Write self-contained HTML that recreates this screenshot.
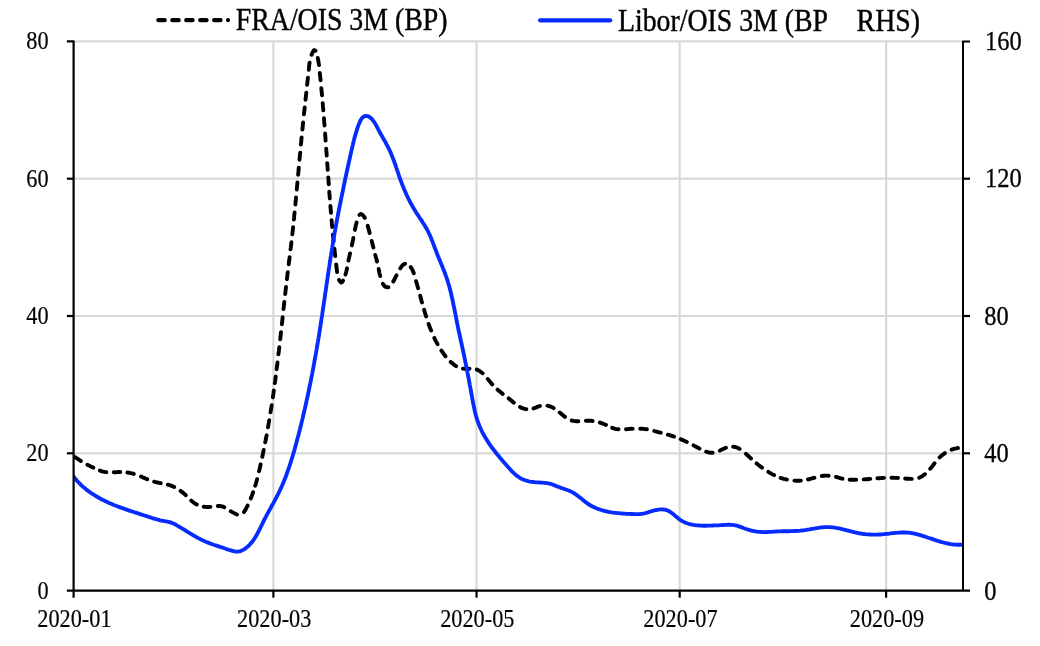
<!DOCTYPE html><html><head><meta charset="utf-8"><title>chart</title><style>
html,body{margin:0;padding:0;background:#fff;}svg{display:block;}text{font-family:"Liberation Serif",serif;fill:#000;stroke:#000;stroke-width:0.45px;}.s text{stroke-width:0.2px}.r text{stroke-width:0.34px}
</style></head><body>
<svg width="1040" height="646" viewBox="0 0 1040 646">
<rect width="1040" height="646" fill="#fff"/>
<g stroke="#d9d9d9" stroke-width="2.20" fill="none"><line x1="73.60" y1="453.30" x2="963.00" y2="453.30"/><line x1="73.60" y1="316.00" x2="963.00" y2="316.00"/><line x1="73.60" y1="178.70" x2="963.00" y2="178.70"/><line x1="73.60" y1="41.40" x2="963.00" y2="41.40"/><line x1="273.40" y1="41.40" x2="273.40" y2="590.60"/><line x1="476.53" y1="41.40" x2="476.53" y2="590.60"/><line x1="679.66" y1="41.40" x2="679.66" y2="590.60"/><line x1="886.12" y1="41.40" x2="886.12" y2="590.60"/></g>
<clipPath id="cp"><rect x="73.60" y="0" width="889.40" height="646"/></clipPath><g clip-path="url(#cp)">
<path d="M75.2 457.2L76.6 458.2 78.1 459.2 79.5 460.1 80.9 461.0M87.4 464.7L88.8 465.4 90.3 466.2 91.8 466.9 93.3 467.6M99.9 470.6L101.4 471.1 103.0 471.6 104.6 471.9 106.3 472.2M113.8 472.3L115.4 472.2 117.1 472.1 118.7 472.0 120.3 472.0M127.4 472.5L129.0 472.7 130.6 473.1 132.2 473.4 133.8 473.9M141.0 476.5L142.5 477.2 144.1 477.9 145.6 478.6 147.2 479.2M154.2 481.7L155.8 482.2 157.5 482.5 159.1 482.8 160.7 483.2M167.9 484.7L169.5 485.2 171.1 485.7 172.7 486.3 174.2 487.0M180.6 490.9L181.9 491.9 183.2 492.9 184.5 494.1 185.8 495.2M191.3 500.6L192.6 501.8 193.9 502.8 195.3 503.7 196.8 504.5M203.7 506.7L205.4 506.9 207.0 507.0 208.7 507.0 210.4 506.9M217.8 506.0L219.5 506.0 221.2 506.2 222.8 506.6 224.3 507.3M230.7 511.3L232.2 512.1 233.6 512.9 235.3 513.8 237.0 514.5M244.0 512.1L245.0 510.4 246.0 508.7 246.8 507.2 247.6 505.6M250.8 498.4L251.5 496.8 252.1 495.1 252.6 493.7 253.1 492.2M255.2 485.7L255.7 484.3 256.1 482.8 256.6 481.0 257.1 479.2M259.0 471.3L259.5 469.5 259.9 467.7 260.3 466.0 260.6 464.3M262.3 456.8L262.6 455.1 263.0 453.4 263.3 451.7 263.7 450.0M265.2 442.3L265.6 440.6 265.9 438.9 266.2 437.1 266.6 435.3M268.0 427.3L268.3 425.5 268.6 423.7 268.9 422.0 269.2 420.2M270.5 412.3L270.8 410.5 271.1 408.7 271.4 407.0 271.7 405.2M272.9 397.3L273.1 395.5 273.4 393.7 273.6 392.1 273.8 390.4M274.8 383.1L275.1 381.5 275.3 379.8 275.5 378.2 275.7 376.5M276.6 369.2L276.8 367.6 277.1 365.9 277.3 364.2 277.5 362.4M278.4 354.4L278.6 352.6 278.9 350.8 279.1 349.1 279.3 347.3M280.2 339.3L280.4 337.5 280.6 335.7 280.8 334.0 281.0 332.2M281.9 324.2L282.1 322.4 282.3 320.6 282.5 318.8 282.6 317.1M283.5 309.1L283.7 307.3 283.9 305.5 284.1 303.7 284.3 302.0M285.2 294.0L285.4 292.2 285.6 290.4 285.8 288.7 286.0 286.9M286.9 279.2L287.1 277.5 287.3 275.7 287.5 273.9 287.8 272.2M288.7 264.2L288.9 262.4 289.2 260.7 289.4 258.9 289.6 257.1M290.5 249.3L290.8 247.5 291.0 245.8 291.2 244.0 291.4 242.2M292.3 234.4L292.5 232.6 292.7 230.9 292.9 229.1 293.1 227.3M293.9 219.5L294.1 217.7 294.2 215.9 294.4 214.2 294.6 212.4M295.4 204.5L295.5 202.8 295.7 201.0 295.9 199.2 296.0 197.5M296.8 189.6L296.9 187.8 297.1 186.1 297.3 184.3 297.4 182.5M298.1 174.7L298.3 172.9 298.5 171.1 298.6 169.4 298.8 167.6M299.5 159.7L299.7 158.0 299.8 156.2 300.0 154.4 300.2 152.6M300.9 144.6L301.1 142.9 301.3 141.1 301.4 139.3 301.6 137.5M302.4 129.5L302.6 127.8 302.8 126.0 302.9 124.2 303.1 122.4M303.9 114.4L304.1 112.6 304.3 110.9 304.5 109.1 304.7 107.4M305.5 99.7L305.7 98.0 305.9 96.3 306.1 94.5 306.3 92.7M307.1 84.8L307.3 83.1 307.5 81.3 307.7 79.5 307.9 77.7M308.8 69.8L309.0 68.0 309.1 66.2 309.3 64.4 309.6 62.6M311.6 54.7L312.3 53.0 313.1 51.4 314.2 50.1 315.5 50.8M317.8 58.0L318.1 59.7 318.4 61.4 318.7 63.2 319.0 65.0M319.8 73.0L320.0 74.8 320.2 76.6 320.4 78.4 320.6 80.2M321.3 88.1L321.5 89.9 321.7 91.7 321.8 93.5 322.0 95.3M322.7 103.3L322.9 105.1 323.0 106.9 323.2 108.7 323.3 110.4M324.0 118.3L324.1 120.1 324.2 121.9 324.4 123.7 324.5 125.5M325.1 133.5L325.2 135.3 325.4 137.0 325.5 138.8 325.6 140.6M326.2 148.6L326.3 150.4 326.5 152.2 326.6 153.9 326.7 155.6M327.2 163.1L327.4 164.8 327.5 166.5 327.6 168.2 327.7 169.9M328.3 177.4L328.4 179.1 328.5 180.8 328.6 182.5 328.8 184.2M329.3 191.7L329.4 193.4 329.6 195.1 329.7 196.8 329.8 198.5M330.4 206.0L330.6 207.7 330.7 209.4 330.8 211.1 331.0 212.8M331.6 220.3L331.8 222.0 331.9 223.7 332.1 225.4 332.2 227.1M332.9 234.6L333.1 236.3 333.3 237.9 333.4 239.6 333.6 241.3M334.4 248.8L334.6 250.5 334.8 252.2 335.0 254.1 335.2 256.0M336.2 264.5L336.4 266.4 336.7 268.4 336.9 270.2 337.1 272.0M339.0 279.9L339.9 281.4 341.2 282.6 342.3 281.9 343.1 280.6M345.5 274.6L345.9 273.1 346.3 271.7 346.6 270.0 347.0 268.3M348.4 260.6L348.8 258.8 349.2 257.1 349.6 255.3 350.0 253.5M351.9 245.4L352.3 243.5 352.6 241.7 353.0 239.9 353.3 238.0M354.9 229.9L355.3 228.0 355.7 226.2 356.1 224.4 356.6 222.6M359.5 214.9L360.9 214.0 362.5 214.8 363.7 216.2 364.8 217.8M367.7 225.8L368.2 227.6 368.7 229.5 369.2 231.3 369.6 233.0M371.7 240.9L372.1 242.6 372.6 244.4 373.0 246.0 373.4 247.6M375.3 254.9L375.7 256.5 376.2 258.2 376.6 259.8 377.0 261.5M378.7 269.0L379.0 270.7 379.3 272.3 379.7 274.2 380.2 276.0M382.9 283.9L384.0 285.5 385.3 286.7 386.8 287.3 388.4 287.3M393.3 281.5L394.1 280.0 394.9 278.5 395.7 276.9 396.5 275.3M400.3 268.3L401.3 266.8 402.4 265.5 403.6 264.4 405.0 263.7M410.7 267.1L411.6 268.4 412.4 269.8 413.1 271.5 413.8 273.3M416.1 281.2L416.6 283.0 417.1 284.8 417.6 286.5 418.1 288.2M420.2 295.7L420.6 297.4 421.1 299.1 421.5 300.8 422.0 302.4M424.1 309.8L424.6 311.5 425.1 313.2 425.6 314.8 426.1 316.5M428.6 323.9L429.1 325.5 429.8 327.2 430.4 328.9 431.1 330.5M434.3 337.9L435.1 339.6 435.9 341.2 436.7 342.7 437.5 344.2M441.4 350.6L442.4 352.0 443.4 353.4 444.4 354.8 445.5 356.2M450.7 361.9L452.0 363.0 453.3 364.1 454.7 365.1 456.1 366.1M462.9 368.6L464.5 368.8 466.1 368.8 467.8 368.8 469.5 368.7M476.8 369.6L478.4 370.3 479.9 371.2 481.2 372.2 482.6 373.3M487.8 379.1L488.9 380.5 490.0 381.8 491.1 383.1 492.3 384.4M497.6 389.6L498.8 390.7 500.1 391.8 501.4 392.8 502.7 393.9M508.6 398.4L509.9 399.4 511.2 400.5 512.5 401.6 513.8 402.6M520.0 407.0L521.5 407.8 523.1 408.4 524.7 408.9 526.3 409.2M533.5 408.4L535.1 407.9 536.6 407.2 538.2 406.6 539.9 406.0M547.5 405.7L549.1 406.1 550.8 406.7 552.3 407.3 553.7 408.1M559.7 412.5L561.0 413.6 562.3 414.7 563.6 415.8 565.0 416.9M571.7 420.5L573.4 420.9 575.1 421.1 576.7 421.2 578.4 421.2M585.9 420.7L587.5 420.7 589.2 420.7 590.9 420.8 592.6 421.0M599.9 422.6L601.5 423.2 603.1 423.7 604.5 424.3 606.0 424.9M612.2 427.8L613.7 428.3 615.2 428.8 616.8 429.1 618.5 429.3M626.0 429.2L627.7 429.1 629.3 428.9 631.0 428.8 632.7 428.8M640.2 428.7L641.9 428.7 643.5 428.9 645.2 429.1 646.9 429.3M654.2 431.0L655.9 431.5 657.5 431.9 659.1 432.3 660.7 432.7M667.8 434.7L669.4 435.1 671.0 435.6 672.5 436.1 674.1 436.6M680.8 439.2L682.2 439.9 683.7 440.5 685.3 441.3 686.8 442.0M693.5 445.4L695.0 446.2 696.5 447.0 698.0 447.8 699.5 448.6M706.2 451.7L707.8 452.2 709.4 452.6 711.1 452.8 712.7 452.8M719.8 450.6L721.3 449.8 722.9 449.1 724.4 448.4 725.9 447.8M733.1 446.7L734.8 446.9 736.3 447.4 738.0 448.0 739.6 448.9M745.9 453.8L747.2 455.0 748.6 456.3 749.8 457.4 751.0 458.5M756.6 463.4L757.9 464.5 759.2 465.5 760.6 466.6 762.0 467.6M768.3 471.9L769.8 472.8 771.2 473.6 772.7 474.4 774.1 475.1M780.6 477.9L782.1 478.3 783.6 478.8 785.3 479.2 786.9 479.6M794.4 480.6L796.1 480.7 797.8 480.7 799.4 480.7 800.9 480.6M808.0 479.5L809.5 479.1 811.1 478.7 812.7 478.2 814.4 477.8M821.8 476.0L823.5 475.8 825.2 475.6 826.9 475.6 828.6 475.7M836.0 476.9L837.7 477.4 839.3 477.8 840.9 478.3 842.5 478.7M849.6 479.7L851.3 479.8 852.9 479.8 854.6 479.8 856.2 479.8M863.7 479.4L865.4 479.3 867.1 479.2 868.7 479.0 870.3 478.9M877.4 478.3L879.0 478.2 880.6 478.1 882.3 478.0 884.0 477.9M891.4 477.8L893.1 477.8 894.8 477.9 896.4 477.9 898.0 478.0M905.2 478.5L906.8 478.7 908.5 478.8 910.1 478.9 911.8 478.9M919.2 477.7L920.7 477.0 922.2 476.1 923.6 475.2 925.0 474.2M930.2 468.8L931.3 467.5 932.4 466.1 933.4 464.7 934.5 463.3M939.6 457.4L940.9 456.2 942.2 455.1 943.6 454.1 944.9 453.1M951.6 449.7L953.1 449.2 954.7 448.7 956.4 448.3 958.0 448.0" fill="none" stroke="#000" stroke-width="3.9" stroke-linecap="round" stroke-linejoin="round"/>
<path d="M73.4 476.3L74.3 477.5 75.3 478.7 76.2 479.8 77.2 481.0 78.2 482.1 79.3 483.1 80.3 484.2 81.4 485.3 82.5 486.3 83.6 487.3 84.8 488.2 85.9 489.2 87.1 490.1 88.3 491.0 89.5 491.9 90.7 492.8 92.0 493.6 93.2 494.4 94.5 495.2 95.8 496.0 97.1 496.8 98.4 497.5 99.7 498.3 101.0 499.0 102.3 499.7 103.7 500.3 105.0 501.0 106.4 501.6 107.7 502.3 109.1 502.9 110.5 503.5 111.9 504.1 113.2 504.7 114.6 505.2 116.0 505.8 117.4 506.3 118.8 506.9 120.2 507.4 121.6 507.9 123.0 508.4 124.5 508.9 125.9 509.4 127.3 509.9 128.7 510.4 130.1 510.9 131.6 511.3 133.0 511.8 134.4 512.3 135.8 512.7 137.3 513.2 138.7 513.6 140.1 514.1 141.6 514.6 143.0 515.0 144.4 515.5 145.8 515.9 147.3 516.4 148.7 516.9 150.1 517.3 151.5 517.8 153.0 518.3 154.4 518.7 155.8 519.1 157.3 519.5 158.7 519.9 160.2 520.3 161.6 520.6 163.1 520.9 164.6 521.2 166.1 521.4 167.5 521.7 169.0 522.0 170.5 522.4 171.9 522.9 173.3 523.5 174.6 524.1 176.0 524.8 177.3 525.6 178.5 526.3 179.8 527.1 181.1 527.9 182.4 528.6 183.7 529.4 184.9 530.2 186.2 531.0 187.5 531.8 188.8 532.6 190.1 533.4 191.3 534.1 192.6 534.9 193.9 535.7 195.2 536.4 196.5 537.2 197.8 537.9 199.2 538.6 200.5 539.3 201.8 539.9 203.2 540.6 204.6 541.2 205.9 541.8 207.3 542.4 208.7 542.9 210.1 543.4 211.5 544.0 213.0 544.5 214.4 545.0 215.8 545.4 217.2 545.9 218.6 546.4 220.1 546.9 221.5 547.3 222.9 547.8 224.3 548.3 225.7 548.8 227.2 549.3 228.6 549.7 230.0 550.2 231.5 550.6 232.9 551.0 234.4 551.3 235.9 551.5 237.4 551.6 238.9 551.4 240.3 551.1 241.7 550.6 243.1 549.9 244.4 549.2 245.6 548.3 246.8 547.4 247.9 546.4 249.0 545.3 250.0 544.3 251.0 543.1 252.0 542.0 252.9 540.8 253.7 539.6 254.6 538.3 255.4 537.1 256.2 535.8 256.9 534.5 257.6 533.2 258.3 531.8 259.0 530.5 259.7 529.2 260.4 527.8 261.0 526.5 261.7 525.1 262.3 523.8 263.0 522.4 263.6 521.1 264.3 519.7 265.0 518.4 265.7 517.1 266.4 515.7 267.1 514.4 267.8 513.1 268.5 511.8 269.2 510.5 270.0 509.1 270.7 507.8 271.4 506.5 272.1 505.2 272.9 503.9 273.6 502.6 274.3 501.3 275.0 499.9 275.7 498.6 276.4 497.3 277.1 496.0 277.8 494.6 278.5 493.3 279.1 491.9 279.8 490.6 280.4 489.2 281.0 487.9 281.7 486.5 282.3 485.1 282.9 483.8 283.4 482.4 284.0 481.0 284.6 479.6 285.1 478.2 285.7 476.8 286.2 475.4 286.7 474.0 287.2 472.6 287.7 471.2 288.2 469.7 288.7 468.3 289.2 466.9 289.7 465.5 290.1 464.1 290.6 462.6 291.1 461.2 291.5 459.8 291.9 458.3 292.4 456.9 292.8 455.5 293.2 454.0 293.6 452.6 294.1 451.1 294.5 449.7 294.9 448.3 295.3 446.8 295.7 445.4 296.1 443.9 296.5 442.5 296.8 441.0 297.2 439.6 297.6 438.1 298.0 436.7 298.4 435.2 298.8 433.8 299.1 432.3 299.5 430.9 299.9 429.4 300.2 428.0 300.6 426.5 301.0 425.0 301.3 423.6 301.7 422.1 302.0 420.7 302.4 419.2 302.7 417.8 303.1 416.3 303.4 414.8 303.8 413.4 304.1 411.9 304.4 410.4 304.8 409.0 305.1 407.5 305.4 406.1 305.8 404.6 306.1 403.1 306.4 401.7 306.7 400.2 307.0 398.7 307.4 397.3 307.7 395.8 308.0 394.3 308.3 392.9 308.6 391.4 308.9 389.9 309.2 388.5 309.5 387.0 309.8 385.5 310.1 384.1 310.4 382.6 310.7 381.1 311.0 379.6 311.3 378.2 311.6 376.7 311.9 375.2 312.2 373.8 312.4 372.3 312.7 370.8 313.0 369.3 313.3 367.9 313.6 366.4 313.8 364.9 314.1 363.4 314.4 362.0 314.6 360.5 314.9 359.0 315.2 357.5 315.4 356.1 315.7 354.6 316.0 353.1 316.2 351.6 316.5 350.1 316.7 348.7 317.0 347.2 317.2 345.7 317.5 344.2 317.7 342.8 318.0 341.3 318.2 339.8 318.5 338.3 318.7 336.8 319.0 335.4 319.2 333.9 319.4 332.4 319.7 330.9 319.9 329.4 320.1 327.9 320.4 326.5 320.6 325.0 320.8 323.5 321.1 322.0 321.3 320.5 321.5 319.1 321.7 317.6 322.0 316.1 322.2 314.6 322.4 313.1 322.6 311.6 322.8 310.2 323.1 308.7 323.3 307.2 323.5 305.7 323.7 304.2 323.9 302.7 324.2 301.2 324.4 299.8 324.6 298.3 324.8 296.8 325.0 295.3 325.2 293.8 325.4 292.3 325.7 290.9 325.9 289.4 326.1 287.9 326.3 286.4 326.5 284.9 326.7 283.4 327.0 282.0 327.2 280.5 327.4 279.0 327.6 277.5 327.8 276.0 328.1 274.5 328.3 273.0 328.5 271.6 328.7 270.1 328.9 268.6 329.2 267.1 329.4 265.6 329.6 264.1 329.8 262.7 330.1 261.2 330.3 259.7 330.5 258.2 330.7 256.7 331.0 255.3 331.2 253.8 331.4 252.3 331.7 250.8 331.9 249.3 332.2 247.8 332.4 246.4 332.6 244.9 332.9 243.4 333.1 241.9 333.4 240.4 333.6 239.0 333.9 237.5 334.1 236.0 334.4 234.5 334.6 233.1 334.9 231.6 335.2 230.1 335.4 228.6 335.7 227.1 336.0 225.7 336.2 224.2 336.5 222.7 336.8 221.2 337.0 219.8 337.3 218.3 337.6 216.8 337.9 215.3 338.2 213.9 338.4 212.4 338.7 210.9 339.0 209.5 339.3 208.0 339.6 206.5 339.9 205.0 340.2 203.6 340.5 202.1 340.8 200.6 341.1 199.2 341.4 197.7 341.7 196.2 342.0 194.7 342.3 193.3 342.6 191.8 342.9 190.3 343.2 188.9 343.5 187.4 343.8 185.9 344.1 184.5 344.4 183.0 344.7 181.5 345.0 180.1 345.3 178.6 345.7 177.1 346.0 175.7 346.3 174.2 346.6 172.7 346.9 171.3 347.2 169.8 347.5 168.3 347.9 166.9 348.2 165.4 348.5 163.9 348.8 162.5 349.1 161.0 349.5 159.5 349.8 158.1 350.1 156.6 350.4 155.1 350.8 153.7 351.1 152.2 351.4 150.8 351.8 149.3 352.1 147.8 352.4 146.4 352.8 144.9 353.1 143.5 353.5 142.0 353.9 140.5 354.2 139.1 354.6 137.6 355.0 136.2 355.4 134.7 355.8 133.3 356.3 131.9 356.7 130.4 357.1 129.0 357.6 127.6 358.1 126.2 358.6 124.8 359.2 123.4 359.8 122.0 360.4 120.6 361.1 119.3 362.0 118.1 363.1 117.0 364.4 116.3 365.8 116.0 367.3 116.1 368.7 116.5 370.0 117.3 371.1 118.3 372.2 119.4 373.1 120.6 374.0 121.8 374.8 123.1 375.6 124.3 376.3 125.6 377.0 127.0 377.7 128.3 378.4 129.6 379.1 131.0 379.8 132.3 380.5 133.6 381.3 134.9 382.0 136.2 382.7 137.5 383.5 138.8 384.2 140.1 385.0 141.4 385.7 142.7 386.4 144.1 387.1 145.4 387.8 146.7 388.5 148.0 389.2 149.4 389.8 150.7 390.4 152.1 391.0 153.5 391.6 154.9 392.2 156.3 392.7 157.7 393.2 159.1 393.8 160.5 394.3 161.9 394.8 163.3 395.3 164.7 395.8 166.1 396.2 167.5 396.7 169.0 397.2 170.4 397.7 171.8 398.2 173.2 398.6 174.6 399.1 176.1 399.6 177.5 400.1 178.9 400.6 180.3 401.2 181.7 401.7 183.1 402.2 184.5 402.8 185.9 403.4 187.3 403.9 188.7 404.5 190.1 405.1 191.4 405.7 192.8 406.3 194.2 406.9 195.6 407.6 196.9 408.2 198.3 408.9 199.6 409.6 200.9 410.3 202.3 411.0 203.6 411.7 204.9 412.4 206.2 413.2 207.5 413.9 208.8 414.7 210.1 415.5 211.4 416.3 212.7 417.1 213.9 417.9 215.2 418.8 216.4 419.6 217.7 420.4 218.9 421.3 220.2 422.1 221.4 422.9 222.7 423.7 223.9 424.5 225.2 425.3 226.5 426.0 227.8 426.8 229.1 427.5 230.4 428.2 231.7 428.8 233.1 429.5 234.4 430.1 235.8 430.7 237.2 431.3 238.6 431.8 240.0 432.4 241.4 432.9 242.8 433.4 244.2 434.0 245.6 434.5 247.0 435.0 248.4 435.5 249.8 436.1 251.2 436.6 252.6 437.2 254.0 437.7 255.4 438.3 256.8 438.8 258.1 439.4 259.5 440.0 260.9 440.6 262.3 441.1 263.7 441.7 265.1 442.3 266.5 442.8 267.9 443.4 269.3 443.9 270.6 444.5 272.0 445.0 273.4 445.5 274.9 446.0 276.3 446.5 277.7 447.0 279.1 447.5 280.5 447.9 282.0 448.3 283.4 448.8 284.8 449.2 286.3 449.6 287.7 450.0 289.2 450.3 290.6 450.7 292.1 451.1 293.5 451.4 295.0 451.7 296.5 452.1 297.9 452.4 299.4 452.7 300.9 453.0 302.3 453.3 303.8 453.6 305.3 453.9 306.7 454.2 308.2 454.5 309.7 454.8 311.1 455.1 312.6 455.4 314.1 455.7 315.6 456.0 317.0 456.3 318.5 456.5 320.0 456.8 321.5 457.1 322.9 457.4 324.4 457.7 325.9 458.0 327.3 458.3 328.8 458.6 330.3 458.9 331.7 459.3 333.2 459.6 334.7 459.9 336.1 460.2 337.6 460.5 339.1 460.8 340.5 461.2 342.0 461.5 343.5 461.8 344.9 462.1 346.4 462.4 347.9 462.8 349.3 463.1 350.8 463.4 352.3 463.7 353.7 464.0 355.2 464.3 356.7 464.6 358.1 464.9 359.6 465.2 361.1 465.5 362.5 465.8 364.0 466.1 365.5 466.4 367.0 466.7 368.4 467.0 369.9 467.3 371.4 467.5 372.8 467.8 374.3 468.1 375.8 468.4 377.3 468.7 378.7 468.9 380.2 469.2 381.7 469.5 383.2 469.7 384.6 470.0 386.1 470.3 387.6 470.6 389.1 470.8 390.5 471.1 392.0 471.4 393.5 471.6 395.0 471.9 396.4 472.2 397.9 472.4 399.4 472.7 400.9 473.0 402.3 473.3 403.8 473.6 405.3 473.9 406.8 474.2 408.2 474.5 409.7 474.8 411.2 475.2 412.6 475.5 414.1 475.9 415.5 476.3 417.0 476.8 418.4 477.2 419.8 477.7 421.3 478.2 422.7 478.7 424.1 479.3 425.5 479.8 426.9 480.5 428.2 481.1 429.6 481.7 430.9 482.4 432.3 483.1 433.6 483.8 434.9 484.6 436.2 485.3 437.5 486.1 438.8 486.9 440.1 487.7 441.4 488.5 442.6 489.3 443.9 490.2 445.1 491.0 446.3 491.9 447.5 492.8 448.7 493.7 449.9 494.6 451.1 495.6 452.3 496.5 453.5 497.4 454.6 498.4 455.8 499.4 457.0 500.3 458.1 501.3 459.2 502.3 460.4 503.2 461.5 504.2 462.7 505.2 463.8 506.2 464.9 507.2 466.0 508.2 467.2 509.2 468.3 510.2 469.4 511.2 470.5 512.2 471.6 513.3 472.6 514.4 473.7 515.5 474.7 516.7 475.6 517.9 476.5 519.1 477.4 520.4 478.2 521.7 478.9 523.1 479.5 524.5 480.1 525.9 480.5 527.3 480.9 528.8 481.3 530.2 481.6 531.7 481.8 533.2 482.0 534.7 482.2 536.2 482.3 537.7 482.4 539.2 482.5 540.7 482.6 542.2 482.7 543.7 482.8 545.2 482.9 546.7 483.1 548.1 483.3 549.6 483.7 551.1 484.0 552.5 484.5 553.9 485.1 555.3 485.6 556.7 486.2 558.0 486.8 559.4 487.3 560.9 487.8 562.3 488.3 563.7 488.8 565.1 489.3 566.5 489.8 567.9 490.3 569.3 490.8 570.7 491.4 572.1 492.1 573.4 492.8 574.6 493.6 575.9 494.5 577.1 495.4 578.3 496.3 579.5 497.2 580.6 498.1 581.8 499.1 582.9 500.0 584.1 501.0 585.3 501.9 586.5 502.8 587.7 503.7 589.0 504.5 590.3 505.3 591.6 506.0 592.9 506.7 594.3 507.3 595.6 508.0 597.0 508.5 598.4 509.1 599.8 509.5 601.3 510.0 602.7 510.4 604.1 510.8 605.6 511.2 607.1 511.5 608.5 511.8 610.0 512.1 611.5 512.3 613.0 512.6 614.5 512.8 615.9 512.9 617.4 513.1 618.9 513.2 620.4 513.4 621.9 513.5 623.4 513.6 624.9 513.7 626.4 513.8 627.9 513.8 629.4 513.9 630.9 514.0 632.4 514.0 633.9 514.1 635.4 514.1 636.9 514.2 638.4 514.1 639.9 514.1 641.4 513.9 642.9 513.7 644.3 513.4 645.8 513.0 647.2 512.6 648.7 512.1 650.1 511.7 651.5 511.2 653.0 510.8 654.4 510.4 655.9 510.0 657.3 509.8 658.8 509.6 660.3 509.4 661.8 509.4 663.3 509.5 664.8 509.7 666.3 510.0 667.7 510.5 669.0 511.2 670.3 512.0 671.5 512.8 672.7 513.7 673.9 514.7 675.0 515.7 676.2 516.6 677.3 517.6 678.5 518.6 679.7 519.5 680.9 520.3 682.2 521.1 683.5 521.8 684.9 522.4 686.3 523.0 687.7 523.5 689.1 523.9 690.6 524.3 692.0 524.6 693.5 524.9 695.0 525.1 696.5 525.3 698.0 525.4 699.5 525.5 701.0 525.6 702.5 525.7 704.0 525.7 705.5 525.7 707.0 525.7 708.5 525.6 710.0 525.6 711.5 525.6 713.0 525.5 714.5 525.4 716.0 525.4 717.5 525.3 719.0 525.3 720.5 525.2 722.0 525.1 723.5 525.0 725.0 524.9 726.5 524.8 727.9 524.7 729.4 524.7 730.9 524.8 732.4 524.9 733.9 525.1 735.4 525.3 736.9 525.7 738.3 526.1 739.7 526.6 741.1 527.1 742.5 527.6 743.9 528.2 745.3 528.7 746.7 529.2 748.2 529.7 749.6 530.1 751.1 530.5 752.5 530.8 754.0 531.1 755.5 531.4 757.0 531.6 758.4 531.8 759.9 531.9 761.4 532.0 762.9 532.1 764.4 532.1 765.9 532.1 767.4 532.0 768.9 531.9 770.4 531.8 771.9 531.8 773.4 531.7 774.9 531.6 776.4 531.5 777.9 531.4 779.4 531.3 780.9 531.3 782.4 531.2 783.9 531.2 785.4 531.2 786.9 531.2 788.4 531.2 789.9 531.2 791.4 531.1 792.9 531.1 794.4 531.0 795.9 531.0 797.4 530.9 798.9 530.8 800.4 530.7 801.9 530.5 803.4 530.3 804.9 530.1 806.3 529.9 807.8 529.6 809.3 529.4 810.8 529.1 812.3 528.8 813.7 528.6 815.2 528.3 816.7 528.1 818.2 527.8 819.7 527.6 821.1 527.4 822.6 527.3 824.1 527.2 825.6 527.1 827.1 527.1 828.6 527.1 830.1 527.1 831.6 527.3 833.1 527.4 834.6 527.6 836.1 527.9 837.6 528.1 839.0 528.4 840.5 528.7 842.0 529.1 843.4 529.4 844.9 529.8 846.3 530.2 847.8 530.5 849.2 530.9 850.7 531.3 852.1 531.7 853.6 532.0 855.0 532.4 856.5 532.7 858.0 533.0 859.4 533.3 860.9 533.5 862.4 533.8 863.9 534.0 865.4 534.2 866.9 534.3 868.4 534.4 869.9 534.5 871.4 534.6 872.9 534.6 874.4 534.6 875.9 534.6 877.4 534.6 878.9 534.5 880.4 534.5 881.9 534.4 883.4 534.2 884.8 534.1 886.3 533.9 887.8 533.8 889.3 533.6 890.8 533.4 892.3 533.2 893.8 533.1 895.3 532.9 896.8 532.8 898.3 532.7 899.8 532.6 901.3 532.5 902.8 532.5 904.3 532.5 905.8 532.5 907.3 532.6 908.8 532.7 910.2 532.9 911.7 533.1 913.2 533.4 914.7 533.7 916.1 534.0 917.6 534.4 919.0 534.8 920.5 535.2 921.9 535.6 923.4 536.1 924.8 536.5 926.2 537.0 927.6 537.5 929.0 538.0 930.5 538.4 931.9 538.9 933.3 539.4 934.7 539.9 936.1 540.4 937.6 540.8 939.0 541.3 940.4 541.7 941.9 542.1 943.3 542.5 944.8 542.9 946.2 543.2 947.7 543.5 949.2 543.8 950.7 544.1 952.2 544.3 953.6 544.5 955.1 544.6 956.6 544.7 958.1 544.7 959.6 544.7 961.1 544.7 962.6 544.6" fill="none" stroke="#062bff" stroke-width="3.85" stroke-linecap="round" stroke-linejoin="round"/>
</g>
<g stroke="#000" stroke-width="2.20" fill="none"><path d="M66.90 41.40H73.60V597.70" stroke-linejoin="round"/><path d="M970.00 41.40H963.00V590.60" stroke-width="2.0" stroke-linejoin="round"/><line x1="66.90" y1="590.60" x2="970.00" y2="590.60"/><line x1="66.90" y1="453.30" x2="73.60" y2="453.30"/><line x1="963.00" y1="453.30" x2="970.00" y2="453.30"/><line x1="66.90" y1="316.00" x2="73.60" y2="316.00"/><line x1="963.00" y1="316.00" x2="970.00" y2="316.00"/><line x1="66.90" y1="178.70" x2="73.60" y2="178.70"/><line x1="963.00" y1="178.70" x2="970.00" y2="178.70"/><line x1="273.40" y1="590.60" x2="273.40" y2="597.70"/><line x1="476.53" y1="590.60" x2="476.53" y2="597.70"/><line x1="679.66" y1="590.60" x2="679.66" y2="597.70"/><line x1="886.12" y1="590.60" x2="886.12" y2="597.70"/></g>
<g opacity="0.996">
<g class="s">
<text transform="translate(48.60 599.10) scale(0.9060 1)" font-size="24.60" text-anchor="end">0</text>
<text transform="translate(48.60 461.00) scale(0.9060 1)" font-size="24.60" text-anchor="end">20</text>
<text transform="translate(48.60 323.70) scale(0.9060 1)" font-size="24.60" text-anchor="end">40</text>
<text transform="translate(48.60 187.30) scale(0.9060 1)" font-size="24.60" text-anchor="end">60</text>
<text transform="translate(48.60 49.10) scale(0.9060 1)" font-size="24.60" text-anchor="end">80</text>
</g><g class="r">
<text transform="translate(984.30 599.60) scale(0.8750 1)" font-size="27.90" text-anchor="start">0</text>
<text transform="translate(984.30 461.90) scale(0.8750 1)" font-size="27.90" text-anchor="start">40</text>
<text transform="translate(984.30 325.00) scale(0.8750 1)" font-size="27.90" text-anchor="start">80</text>
<text transform="translate(985.10 187.30) scale(0.8750 1)" font-size="27.90" text-anchor="start">120</text>
<text transform="translate(985.10 49.90) scale(0.8750 1)" font-size="27.90" text-anchor="start">160</text>
</g><g class="s">
<text transform="translate(74.40 626.80) scale(0.9060 1)" font-size="24.60" text-anchor="middle">2020-01</text>
<text transform="translate(274.20 626.80) scale(0.9060 1)" font-size="24.60" text-anchor="middle">2020-03</text>
<text transform="translate(477.33 626.80) scale(0.9060 1)" font-size="24.60" text-anchor="middle">2020-05</text>
<text transform="translate(680.46 626.80) scale(0.9060 1)" font-size="24.60" text-anchor="middle">2020-07</text>
<text transform="translate(886.92 626.80) scale(0.9060 1)" font-size="24.60" text-anchor="middle">2020-09</text>
</g>
<line x1="158.3" y1="20.15" x2="228.05" y2="20.15" stroke="#000" stroke-width="4.1" stroke-linecap="round" stroke-dasharray="6.5 7.44"/>
<text transform="translate(235.80 30.00) scale(0.8970 1)" font-size="31.00" text-anchor="start">FRA/OIS 3M (BP)</text>
<line x1="540.1" y1="20.35" x2="610.3" y2="20.35" stroke="#062bff" stroke-width="4.1" stroke-linecap="round"/>
<text transform="translate(618.00 30.90) scale(0.8970 1)" font-size="31.00" text-anchor="start">Libor/OIS 3M (BP</text>
<text transform="translate(856.60 30.90) scale(0.8970 1)" font-size="31.00" text-anchor="start">RHS)</text>
</g>
</svg></body></html>
